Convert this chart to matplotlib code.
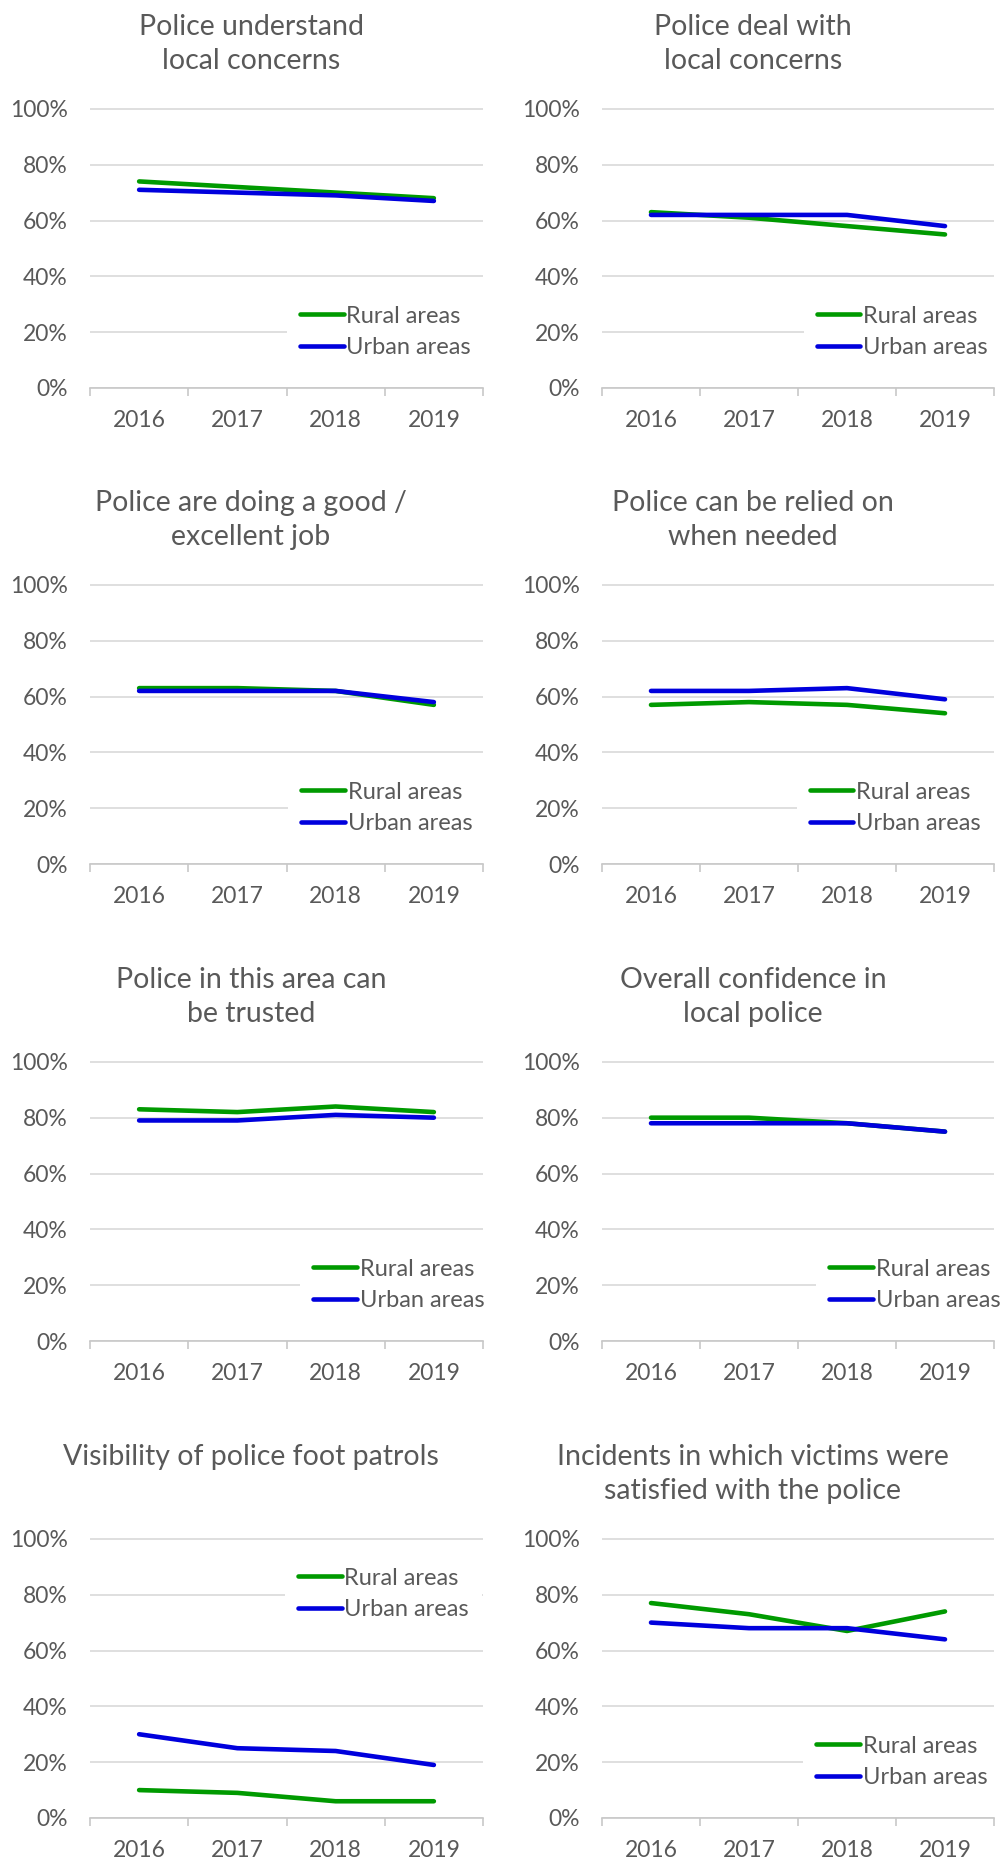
import matplotlib
matplotlib.use('Agg')
import matplotlib.pyplot as plt
from matplotlib.ticker import FuncFormatter, FixedLocator

plt.rcParams['font.family'] = ['Lato', 'DejaVu Sans']

# Data
years = ['2016', '2017', '2018', '2019']
titles = [
    'Police understand\nlocal concerns',
    'Police deal with\nlocal concerns',
    'Police are doing a good /\nexcellent job',
    'Police can be relied on\nwhen needed',
    'Police in this area can\nbe trusted',
    'Overall confidence in\nlocal police',
    'Visibility of police foot patrols',
    'Incidents in which victims were\nsatisfied with the police',
]
rural = [
    [74, 72, 70, 68],
    [63, 61, 58, 55],
    [63, 63, 62, 57],
    [57, 58, 57, 54],
    [83, 82, 84, 82],
    [80, 80, 78, 75],
    [10, 9, 6, 6],
    [77, 73, 67, 74],
]
urban = [
    [71, 70, 69, 67],
    [62, 62, 62, 58],
    [62, 62, 62, 58],
    [62, 62, 63, 59],
    [79, 79, 81, 80],
    [78, 78, 78, 75],
    [30, 25, 24, 19],
    [70, 68, 68, 64],
]
series_names = ['Rural areas', 'Urban areas']

# style
W, H = 1005, 1863
GREEN = '#009A00'
BLUE = '#0000DD'
TEXT = '#595959'
GRID = '#D9D9D9'
AXIS = '#C8C8C8'
TICK_FS = 16.5
LEG_FS = 17
TITLE_FS = 20.5
LW = 3.3

col_left = [90, 602]
col_width = [393, 392]
row_top = [108, 584, 1061, 1538]
ax_h = 280
legend_x = [0.534, 0.548, 0.537, 0.53, 0.568, 0.58, 0.529, 0.546]
legend_y = [0.2, 0.2, 0.2, 0.2, 0.2, 0.2, 0.8, 0.2]

fig = plt.figure(figsize=(W / 100, H / 100), dpi=100)

for i in range(8):
    r, c = divmod(i, 2)
    x0 = col_left[c]
    y_top = row_top[r]
    ax = fig.add_axes([x0 / W, 1 - (y_top + ax_h) / H, col_width[c] / W, ax_h / H])

    xs = list(range(len(years)))
    ax.plot(xs, [v / 100 for v in rural[i]], color=GREEN, lw=LW,
            solid_capstyle='round', label=series_names[0], zorder=3)
    ax.plot(xs, [v / 100 for v in urban[i]], color=BLUE, lw=LW,
            solid_capstyle='round', label=series_names[1], zorder=4)

    ax.set_xlim(-0.5, len(years) - 0.5)
    ax.set_ylim(0, 1.003)
    ax.set_yticks([0, 0.2, 0.4, 0.6, 0.8, 1.0])
    ax.yaxis.set_major_formatter(FuncFormatter(lambda v, p: f'{v * 100:.0f}%'))
    ax.set_xticks(xs)
    ax.set_xticklabels(years)
    ax.xaxis.set_minor_locator(FixedLocator([k - 0.5 for k in range(len(years) + 1)]))

    ax.grid(axis='y', color=GRID, lw=1.2, zorder=0)
    ax.set_axisbelow(True)
    for s in ['top', 'right', 'left']:
        ax.spines[s].set_visible(False)
    ax.spines['bottom'].set_color(AXIS)
    ax.spines['bottom'].set_linewidth(1.2)

    ax.tick_params(axis='y', length=0, pad=16, labelsize=TICK_FS, labelcolor=TEXT)
    ax.tick_params(axis='x', which='major', length=0, pad=16, labelsize=TICK_FS, labelcolor=TEXT)
    ax.tick_params(axis='x', which='minor', length=6, width=1.2, color=AXIS, direction='out')

    bp = 0.55
    off = bp * LEG_FS * 100 / 72 / col_width[c]
    leg = ax.legend(loc='center left', bbox_to_anchor=(legend_x[i] - off, legend_y[i]),
                    borderaxespad=0, borderpad=bp, frameon=True, fancybox=False,
                    edgecolor='none', facecolor='white', framealpha=1,
                    fontsize=LEG_FS, handlelength=1.85, handletextpad=0.12,
                    labelspacing=0.45)
    for t in leg.get_texts():
        t.set_color(TEXT)
    for ln in leg.get_lines():
        ln.set_linewidth(LW)
        ln.set_solid_capstyle('round')
    leg.set_zorder(5)

    # chart title centred on the chart column
    cx = 251 if c == 0 else 753
    fig.text(cx / W, 1 - (y_top - 94) / H, titles[i], ha='center', va='top',
             fontsize=TITLE_FS, color=TEXT, linespacing=1.4)

fig.savefig('out.png', dpi=100, facecolor='white')
